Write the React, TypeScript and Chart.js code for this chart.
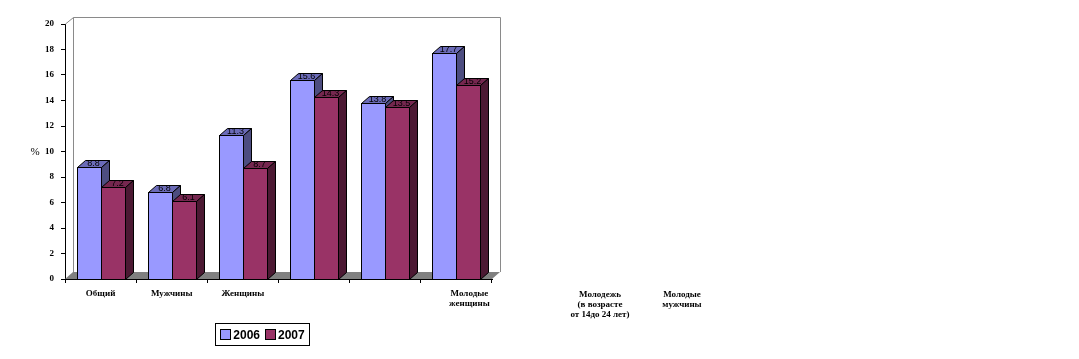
import React, { useEffect, useRef } from "react";
import { Chart, registerables } from "chart.js";

Chart.register(...registerables);

const categories = ["Общий", "Мужчины", "Женщины", "Молодежь (в возрасте от 14 до 24 лет)", "Молодые мужчины", "Молодые женщины"];
const tickLabels: (string | string[])[] = ["Общий", "Мужчины", "Женщины", "", "", ""];
const shiftedLabel: string[] = ["Молодые", "женщины"];
const strayLabels: string[][] = [["Молодежь", "(в возрасте", "от 14до 24 лет)"], ["Молодые", "мужчины"]];
const seriesNames = ["2006", "2007"];
const values2006 = [8.8, 6.8, 11.3, 15.6, 13.8, 17.7];
const values2007 = [7.2, 6.1, 8.7, 14.3, 13.5, 15.2];
const frontColors = ["#9999FF", "#993366"];
const topColors = ["#6B6BB8", "#75274F"];
const sideColors = ["#4D4D80", "#4C1933"];
const yTicks = [0, 2, 4, 6, 8, 10, 12, 14, 16, 18, 20];

const DX = 8;
const DY = 7;

const bars3d = {
  id: "bars3d",
  beforeDatasetsDraw(chart: any) {
    const { ctx, chartArea: a } = chart;
    ctx.save();
    ctx.fillStyle = "#808080";
    ctx.beginPath();
    ctx.moveTo(a.left, a.bottom);
    ctx.lineTo(a.left + DX, a.bottom - DY);
    ctx.lineTo(a.right + DX, a.bottom - DY);
    ctx.lineTo(a.right, a.bottom);
    ctx.closePath();
    ctx.fill();
    ctx.strokeStyle = "#8a8a8a";
    ctx.lineWidth = 1;
    ctx.beginPath();
    ctx.moveTo(a.left + 0.5, a.top);
    ctx.lineTo(a.left + DX + 0.5, a.top - DY + 0.5);
    ctx.lineTo(a.right + DX + 0.5, a.top - DY + 0.5);
    ctx.lineTo(a.right + DX + 0.5, a.bottom - DY);
    ctx.moveTo(a.left + DX + 0.5, a.top - DY + 0.5);
    ctx.lineTo(a.left + DX + 0.5, a.bottom - DY);
    ctx.stroke();
    ctx.restore();
  },
  afterDatasetsDraw(chart: any) {
    const { ctx } = chart;
    const n = chart.data.labels.length;
    const labels: { x: number; y: number; t: string }[] = [];
    ctx.save();
    ctx.strokeStyle = "#000";
    ctx.lineWidth = 1;
    for (let i = 0; i < n; i++) {
      chart.data.datasets.forEach((ds: any, d: number) => {
        const el = chart.getDatasetMeta(d).data[i];
        const { x, y, base, width } = el.getProps(["x", "y", "base", "width"], true);
        const l = Math.round(x - width / 2) + 0.5;
        const r = Math.round(x + width / 2) + 0.5;
        const t = Math.round(y) + 0.5;
        const b = Math.round(base) + 0.5;
        ctx.fillStyle = frontColors[d];
        ctx.fillRect(l, t, r - l, b - t);
        ctx.strokeRect(l, t, r - l, b - t);
        ctx.fillStyle = topColors[d];
        ctx.beginPath();
        ctx.moveTo(l, t);
        ctx.lineTo(l + DX, t - DY);
        ctx.lineTo(r + DX, t - DY);
        ctx.lineTo(r, t);
        ctx.closePath();
        ctx.fill();
        ctx.stroke();
        ctx.fillStyle = sideColors[d];
        ctx.beginPath();
        ctx.moveTo(r, t);
        ctx.lineTo(r + DX, t - DY);
        ctx.lineTo(r + DX, b - DY);
        ctx.lineTo(r, b);
        ctx.closePath();
        ctx.fill();
        ctx.stroke();
        labels.push({ x: (l + r) / 2 + DX / 2, y: t - DY / 2, t: ds.data[i].toFixed(1) });
      });
    }
    ctx.fillStyle = "#000";
    ctx.font = "9px 'Liberation Sans', Arial, sans-serif";
    ctx.textAlign = "center";
    ctx.textBaseline = "middle";
    labels.forEach((lb) => ctx.fillText(lb.t, lb.x, lb.y));
    ctx.restore();
  },
  afterDraw(chart: any) {
    const { ctx, chartArea: a } = chart;
    const xScale = chart.scales.x;
    ctx.save();
    ctx.fillStyle = "#000";
    ctx.textAlign = "center";
    ctx.textBaseline = "middle";
    ctx.font = "11px 'Liberation Serif', serif";
    ctx.fillText("%", 35, (a.top + a.bottom) / 2 + 1);
    ctx.font = "bold 9px 'Liberation Serif', serif";
    const x6 = xScale.getPixelForValue(5) + 13;
    shiftedLabel.forEach((s, j) => ctx.fillText(s, x6, a.bottom + 15 + j * 10));
    const xs = [a.right + 108, a.right + 190];
    strayLabels.forEach((lines, k) => {
      lines.forEach((s, j) => ctx.fillText(s, xs[k], a.bottom + 16 + j * 10));
    });
    ctx.restore();
  },
};

export default function App() {
  const ref = useRef<HTMLCanvasElement>(null);
  useEffect(() => {
    if (!ref.current) return;
    const chart = new Chart(ref.current, {
      type: "bar",
      data: {
        labels: tickLabels as any,
        datasets: [
          { label: seriesNames[0], data: values2006, backgroundColor: "rgba(0,0,0,0)", borderWidth: 0 },
          { label: seriesNames[1], data: values2007, backgroundColor: "rgba(0,0,0,0)", borderWidth: 0 },
        ],
      },
      options: {
        responsive: false,
        animation: false,
        layout: { padding: { left: 28, top: 24, right: 587, bottom: 0 } },
        datasets: { bar: { barPercentage: 1, categoryPercentage: 0.676 } },
        plugins: { legend: { display: false }, tooltip: { enabled: false } },
        scales: {
          x: {
            afterFit: (s: any) => { s.height = 80; },
            grid: { drawOnChartArea: false, drawTicks: true, tickLength: 4, color: "#000", offset: true },
            border: { color: "#000" },
            ticks: { color: "#000", font: { family: "'Liberation Serif', serif", size: 9, weight: "bold" }, padding: 5, maxRotation: 0, autoSkip: false },
          },
          y: {
            min: 0,
            max: 20,
            afterFit: (s: any) => { s.width = 37; },
            afterBuildTicks: (s: any) => { s.ticks = yTicks.map((v) => ({ value: v })); },
            grid: { drawOnChartArea: false, drawTicks: true, tickLength: 4, color: "#000" },
            border: { color: "#000" },
            ticks: { color: "#000", font: { family: "'Liberation Serif', serif", size: 9, weight: "bold" }, padding: 7 },
          },
        },
      },
      plugins: [bars3d],
    });
    return () => chart.destroy();
  }, []);

  return (
    <div style={{ position: "absolute", left: 0, top: 0, width: 1079, height: 359, background: "#fff" }} title={categories.join(", ")}>
      <canvas ref={ref} width={1079} height={359} style={{ display: "block" }} />
      <div
        style={{
          position: "absolute",
          left: 215,
          top: 323,
          width: 93,
          height: 21,
          border: "1px solid #000",
          display: "flex",
          alignItems: "center",
          justifyContent: "center",
          gap: 5,
          fontFamily: "'Liberation Sans', Arial, sans-serif",
          fontWeight: "bold",
          fontSize: 12,
        }}
      >
        {seriesNames.map((s, i) => (
          <span key={s} style={{ display: "flex", alignItems: "center", gap: 2 }}>
            <span style={{ width: 9, height: 9, background: frontColors[i], border: "1px solid #000", display: "inline-block" }} />
            <span>{s}</span>
          </span>
        ))}
      </div>
    </div>
  );
}
